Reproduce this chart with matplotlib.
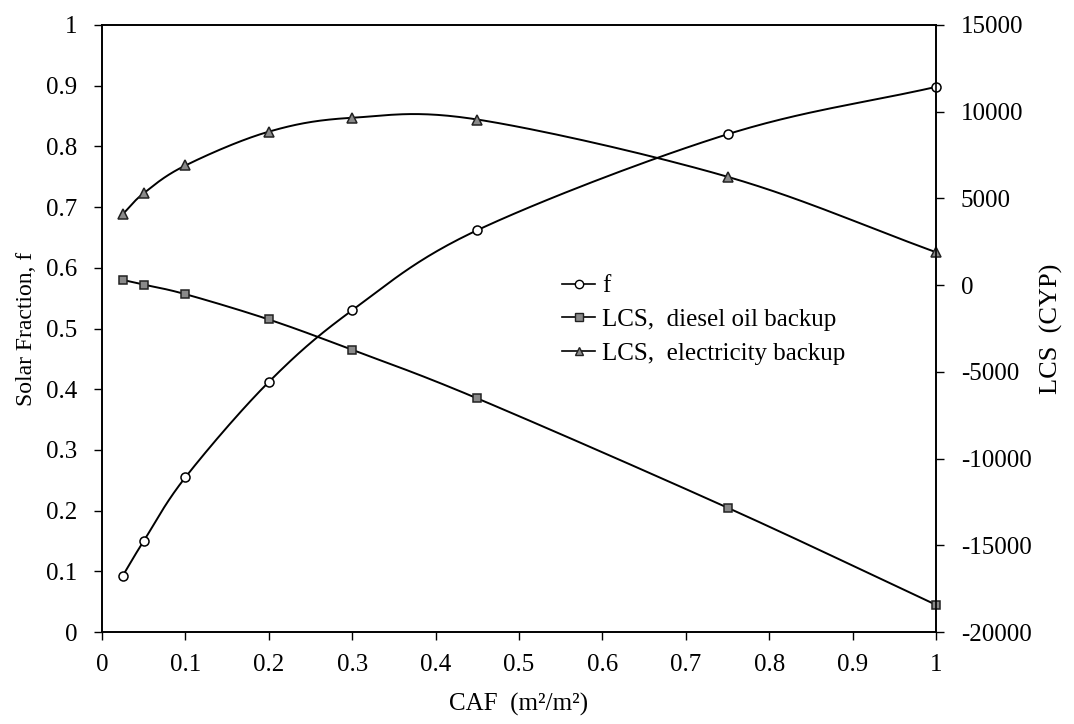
import matplotlib.pyplot as plt
import numpy as np

plt.rcParams['font.family'] = ['Liberation Serif', 'DejaVu Serif']

# data
caf = [0.025, 0.05, 0.1, 0.2, 0.3, 0.45, 0.75, 1.0]
solar_fraction = [0.093, 0.150, 0.255, 0.412, 0.530, 0.662, 0.820, 0.898]
lcs_diesel = [300, 30, -520, -1980, -3730, -6530, -12830, -18430]
lcs_electric = [4100, 5300, 6900, 8850, 9650, 9550, 6250, 1900]

x_ticks = [0, 0.1, 0.2, 0.3, 0.4, 0.5, 0.6, 0.7, 0.8, 0.9, 1]
left_ticks = [0, 0.1, 0.2, 0.3, 0.4, 0.5, 0.6, 0.7, 0.8, 0.9, 1]
right_ticks = [-20000, -15000, -10000, -5000, 0, 5000, 10000, 15000]


def smooth(xs, ys, n=30):
    # Catmull-Rom curve through the points, like a spreadsheet "smoothed line"
    xs = np.asarray(xs, float)
    ys = np.asarray(ys, float)
    px = np.concatenate([[2 * xs[0] - xs[1]], xs, [2 * xs[-1] - xs[-2]]])
    py = np.concatenate([[2 * ys[0] - ys[1]], ys, [2 * ys[-1] - ys[-2]]])
    out_x, out_y = [], []
    t = np.linspace(0, 1, n)
    for i in range(1, len(px) - 2):
        for p, out in ((px, out_x), (py, out_y)):
            p0, p1, p2, p3 = p[i - 1], p[i], p[i + 1], p[i + 2]
            seg = 0.5 * (2 * p1 + (-p0 + p2) * t
                         + (2 * p0 - 5 * p1 + 4 * p2 - p3) * t ** 2
                         + (-p0 + 3 * p1 - 3 * p2 + p3) * t ** 3)
            out.extend(seg)
    return out_x, out_y


fig = plt.figure(figsize=(10.74, 7.24), dpi=100)
ax = fig.add_axes([0.095, 0.127, 0.7765, 0.8385])
ax2 = ax.twinx()

sx, sy = smooth(caf, solar_fraction)
ax.plot(sx, sy, color='black', lw=1.4, zorder=2)
ax.plot(caf, solar_fraction, 'o', ms=6.5, mfc='white', mec='black', mew=1.1,
        zorder=3, clip_on=False)

dx, dy = smooth(caf, lcs_diesel)
ax2.plot(dx, dy, color='black', lw=1.4)
ax2.plot(caf, lcs_diesel, 's', ms=6, mfc='#8a8a8a', mec='#222222', mew=1.1,
         clip_on=False)

ex, ey = smooth(caf, lcs_electric)
ax2.plot(ex, ey, color='black', lw=1.4)
ax2.plot(caf, lcs_electric, '^', ms=6.5, mfc='#8a8a8a', mec='#222222', mew=1.1,
         clip_on=False)

ax.set_xlim(0, 1)
ax.set_ylim(0, 1)
ax2.set_ylim(-20000, 15000)
ax.set_xticks(x_ticks)
ax.set_xticklabels([f'{v:g}' for v in x_ticks])
ax.set_yticks(left_ticks)
ax.set_yticklabels([f'{v:g}' for v in left_ticks])
ax2.set_yticks(right_ticks)
ax2.set_yticklabels([str(v) for v in right_ticks])

ax.tick_params(axis='x', direction='out', length=6, width=1, labelsize=18, pad=10)
ax.tick_params(axis='y', direction='out', length=6, width=1, labelsize=18, pad=12)
ax2.tick_params(axis='y', direction='out', length=6, width=1, labelsize=18, pad=12)
for a in (ax, ax2):
    for s in a.spines.values():
        s.set_linewidth(1.2)

ax.set_xlabel('CAF  (m²/m²)', fontsize=18, labelpad=12)
ax.set_ylabel('Solar Fraction, f', fontsize=17, labelpad=6)
ax2.set_ylabel('LCS  (CYP)', fontsize=19, labelpad=6)

h1 = plt.Line2D([], [], color='black', lw=1.2, marker='o', ms=6, mfc='white', mec='black')
h2 = plt.Line2D([], [], color='black', lw=1.2, marker='s', ms=5.5, mfc='#8a8a8a', mec='#222222')
h3 = plt.Line2D([], [], color='black', lw=1.2, marker='^', ms=6, mfc='#8a8a8a', mec='#222222')
ax2.legend([h1, h2, h3], ['f', 'LCS,  diesel oil backup', 'LCS,  electricity backup'],
           loc='upper left', bbox_to_anchor=(0.54, 0.605), frameon=False,
           fontsize=18, handlelength=1.3, handletextpad=0.3, labelspacing=0.45,
           borderaxespad=0)

fig.savefig('out.png', dpi=100)
